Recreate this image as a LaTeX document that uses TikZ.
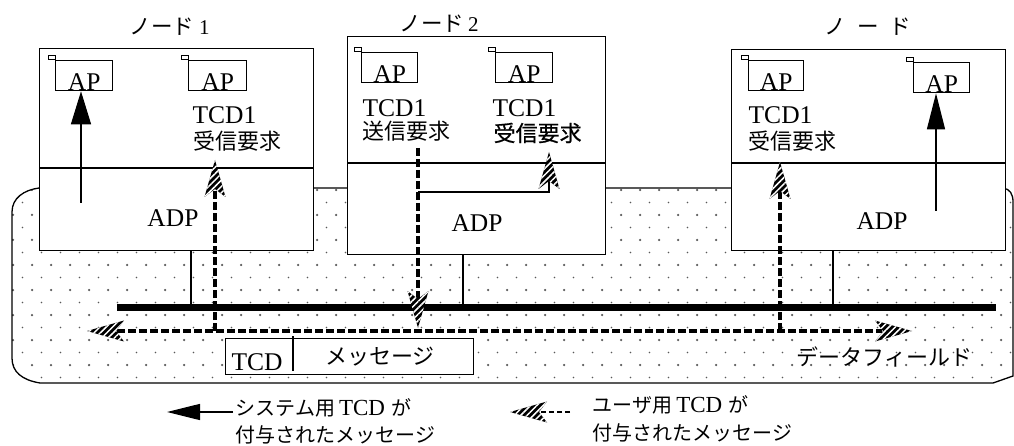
\documentclass[tikz,border=0pt]{standalone}
\usepackage{fontspec}
\setmainfont{Liberation Serif}
\newfontfamily\jp{Noto Sans CJK JP}
\newfontfamily\jpfb{Noto Sans CJK JP}[FakeBold=0.6]
\usetikzlibrary{arrows.meta,patterns.meta}
\begin{document}
\begin{tikzpicture}[x=1pt,y=-1pt,line width=1.3pt,
  box/.style={draw, fill=white, inner sep=0pt, anchor=north west},
  lat/.style={font=\fontsize{25.5}{27}\selectfont, inner sep=0pt},
  jpt/.style={font=\jp\fontsize{22}{24}\selectfont, inner sep=0pt},
  jps/.style={font=\jp\fontsize{20}{22}\selectfont, inner sep=0pt},
  dl/.style={line width=3.5pt, dash pattern=on 8pt off 3pt},
  sarrow/.style={-{Triangle[length=33pt,width=20pt]}},
  sq/.style={line width=1pt},
  hh/.pic={\path[preaction={fill=black}, pattern={Lines[angle=45,distance=4.5pt,line width=1.5pt]}, pattern color=white] (0,0) -- (-37,-10.5) -- (-29,0) -- (-37,10.5) -- cycle;}
]
\useasboundingbox (0,0) rectangle (1014,446);

% dotted data field region
\begin{scope}
\clip (39,188) -- (1003,188) .. controls (1010,189) and (1013,194) .. (1013,202) -- (1013,376) -- (993,383) -- (40,383) .. controls (22,380) and (12,372) .. (12,358) -- (12,212) .. controls (12,198) and (24,190) .. (39,188) -- cycle;
\foreach \j in {0,...,15}{
  \pgfmathsetmacro\off{mod(\j,2)*9.5}
  \pgfmathsetmacro\rr{ifthenelse(mod(\j,2)==0,1.25,0.85)}
  \foreach \i in {0,...,53}{
    \fill[black!65] ({13+\off+19*\i},{190+12.5*\j}) circle[radius=\rr pt];
  }
}
\end{scope}
\draw (39,188) -- (1003,188) .. controls (1010,189) and (1013,194) .. (1013,202) -- (1013,376) -- (993,383) -- (40,383) .. controls (22,380) and (12,372) .. (12,358) -- (12,212) .. controls (12,198) and (24,190) .. (39,188) -- cycle;

% node boxes
\node[box, minimum width=274pt, minimum height=202pt] (n1) at (39,48) {};
\node[box, minimum width=258pt, minimum height=218pt] (n2) at (347,36) {};
\node[box, minimum width=274pt, minimum height=201pt] (n3) at (731,49) {};
\draw (n1.west |- 0,168) -- (n1.east |- 0,168);
\draw (n2.west |- 0,163) -- (n2.east |- 0,163);
\draw (n3.west |- 0,163) -- (n3.east |- 0,163);

% node titles
\node[anchor=base west, inner sep=0pt] (t1) at (129,35) {{\jp\fontsize{21.5}{23}\selectfont ノード}\hspace{5pt}{\fontsize{21}{23}\selectfont 1}};
\node[anchor=base west, inner sep=0pt] (t2) at (399,32) {{\jp\fontsize{21.5}{23}\selectfont ノード}\hspace{4pt}{\fontsize{21}{23}\selectfont 2}};
\node[anchor=base west, inner sep=0pt] (t3) at (824,35) {{\jp\fontsize{21.5}{23}\selectfont ノ\hspace{11pt}ー\hspace{11pt}ド}};

% AP boxes
\node[box, minimum width=57pt, minimum height=30pt] (a11) at (55,60) {};
\node[box, minimum width=58pt, minimum height=30pt] (a12) at (188,60) {};
\node[box, minimum width=56pt, minimum height=30pt] (a21) at (361,52) {};
\node[box, minimum width=57pt, minimum height=30pt] (a22) at (495,52) {};
\node[box, minimum width=55pt, minimum height=30pt] (a31) at (748,60) {};
\node[box, minimum width=56pt, minimum height=30pt] (a32) at (913,62) {};
\foreach \a in {a11,a12,a21,a22,a31,a32}{
  \draw[sq] (\a.north west) rectangle ++(-7,-4);
  \node[lat, anchor=base] at ([yshift=1pt]\a.south) {AP};
}

% labels in nodes
\node[lat, anchor=base west] (l11) at (192,124) {TCD1};
\node[jpt, anchor=west] (l12) at (193,141) {受信要求};
\node[lat, anchor=base west] (l21) at (362,117) {TCD1};
\node[jpt, anchor=west] (l22) at (362,131) {送信要求};
\node[lat, anchor=base west] (l23) at (492,117) {TCD1};
\node[jpt, anchor=west, font=\jpfb\fontsize{22}{24}\selectfont] (l24) at (493,133) {受信要求};
\node[lat, anchor=base west] (l31) at (748,124) {TCD1};
\node[jpt, anchor=west] (l32) at (748,141) {受信要求};

\node[lat, anchor=base] (adp1) at (173,227) {ADP};
\node[lat, anchor=base] (adp2) at (477,232) {ADP};
\node[lat, anchor=base] (adp3) at (882,230) {ADP};

% bus
\coordinate (busL) at (117,307);
\coordinate (busR) at (996,307);
\draw[line width=7pt] (busL) -- (busR);
\draw (n1.south -| 191,0) -- (busL -| 191,0);
\draw (n2.south -| 463,0) -- (busL -| 463,0);
\draw (n3.south -| 833,0) -- (busL -| 833,0);

% solid (system) arrows
\coordinate (s1) at (81,203);
\draw[sarrow] (s1) -- (s1 |- a11.south);
\coordinate (s3) at (936,211);
\draw[-{Triangle[length=36pt,width=18pt]}] (s3) -- (s3 |- a32.south);

% user (hatched) arrows
\coordinate (d2) at (418,148);
\coordinate (h2) at (418,328);
\coordinate (hl) at (87,331);
\coordinate (hr) at (912,331);
\coordinate (h1) at (215,160);
\coordinate (h3) at (780,162);
\coordinate (h22) at (549,152);
\draw[dl] (d2) -- ([yshift=28pt]h2);
\draw[dl] ([xshift=30pt]hl) -- ([xshift=-30pt]hr);
\draw[dl] (h1 |- hl) -- ([yshift=-30pt]h1);
\draw[dl] (h3 |- hl) -- ([yshift=-28pt]h3);
\draw (d2 |- 0,192) -| ([yshift=-28pt]h22);
\pic[rotate=-90] at (h2) {hh};
\pic[rotate=180] at (hl) {hh};
\pic at (hr) {hh};
\pic[rotate=90] at (h1) {hh};
\pic[rotate=90] at (h3) {hh};
\pic[rotate=90] at (h22) {hh};

% message box
\node[box, minimum width=248pt, minimum height=36pt] (msg) at (225,338) {};
\draw (293,336) -- (293,371);
\node[lat, anchor=base] (mtcd) at (257,370) {TCD};
\node[jpt] (mtxt) at (380,357) {メッセージ};
\node[jpt, anchor=east] (df) at (973,357) {データフィールド};

% legend
\coordinate (lg1) at (233,412);
\coordinate (lg1e) at (167,412);
\draw[-{Triangle[length=33pt,width=16pt]}] (lg1) -- (lg1e);
\node[jps, anchor=base west] (lt1) at (235,415) {システム用\hspace{4pt}{\rmfamily\fontsize{23}{25}\selectfont TCD}\hspace{6pt}が};
\node[jps, anchor=base west] (lt2) at (235,442) {付与されたメッセージ};
\coordinate (lg2) at (570,412);
\coordinate (lg2e) at (510,412);
\draw[line width=2pt, dash pattern=on 5pt off 3pt] (lg2) -- ([xshift=30pt]lg2e);
\pic[rotate=180] at (lg2e) {hh};
\node[jps, anchor=base west] (lt3) at (592,412) {ユーザ用\hspace{4pt}{\rmfamily\fontsize{23}{25}\selectfont TCD}\hspace{6pt}が};
\node[jps, anchor=base west] (lt4) at (592,440) {付与されたメッセージ};
\end{tikzpicture}
\end{document}
